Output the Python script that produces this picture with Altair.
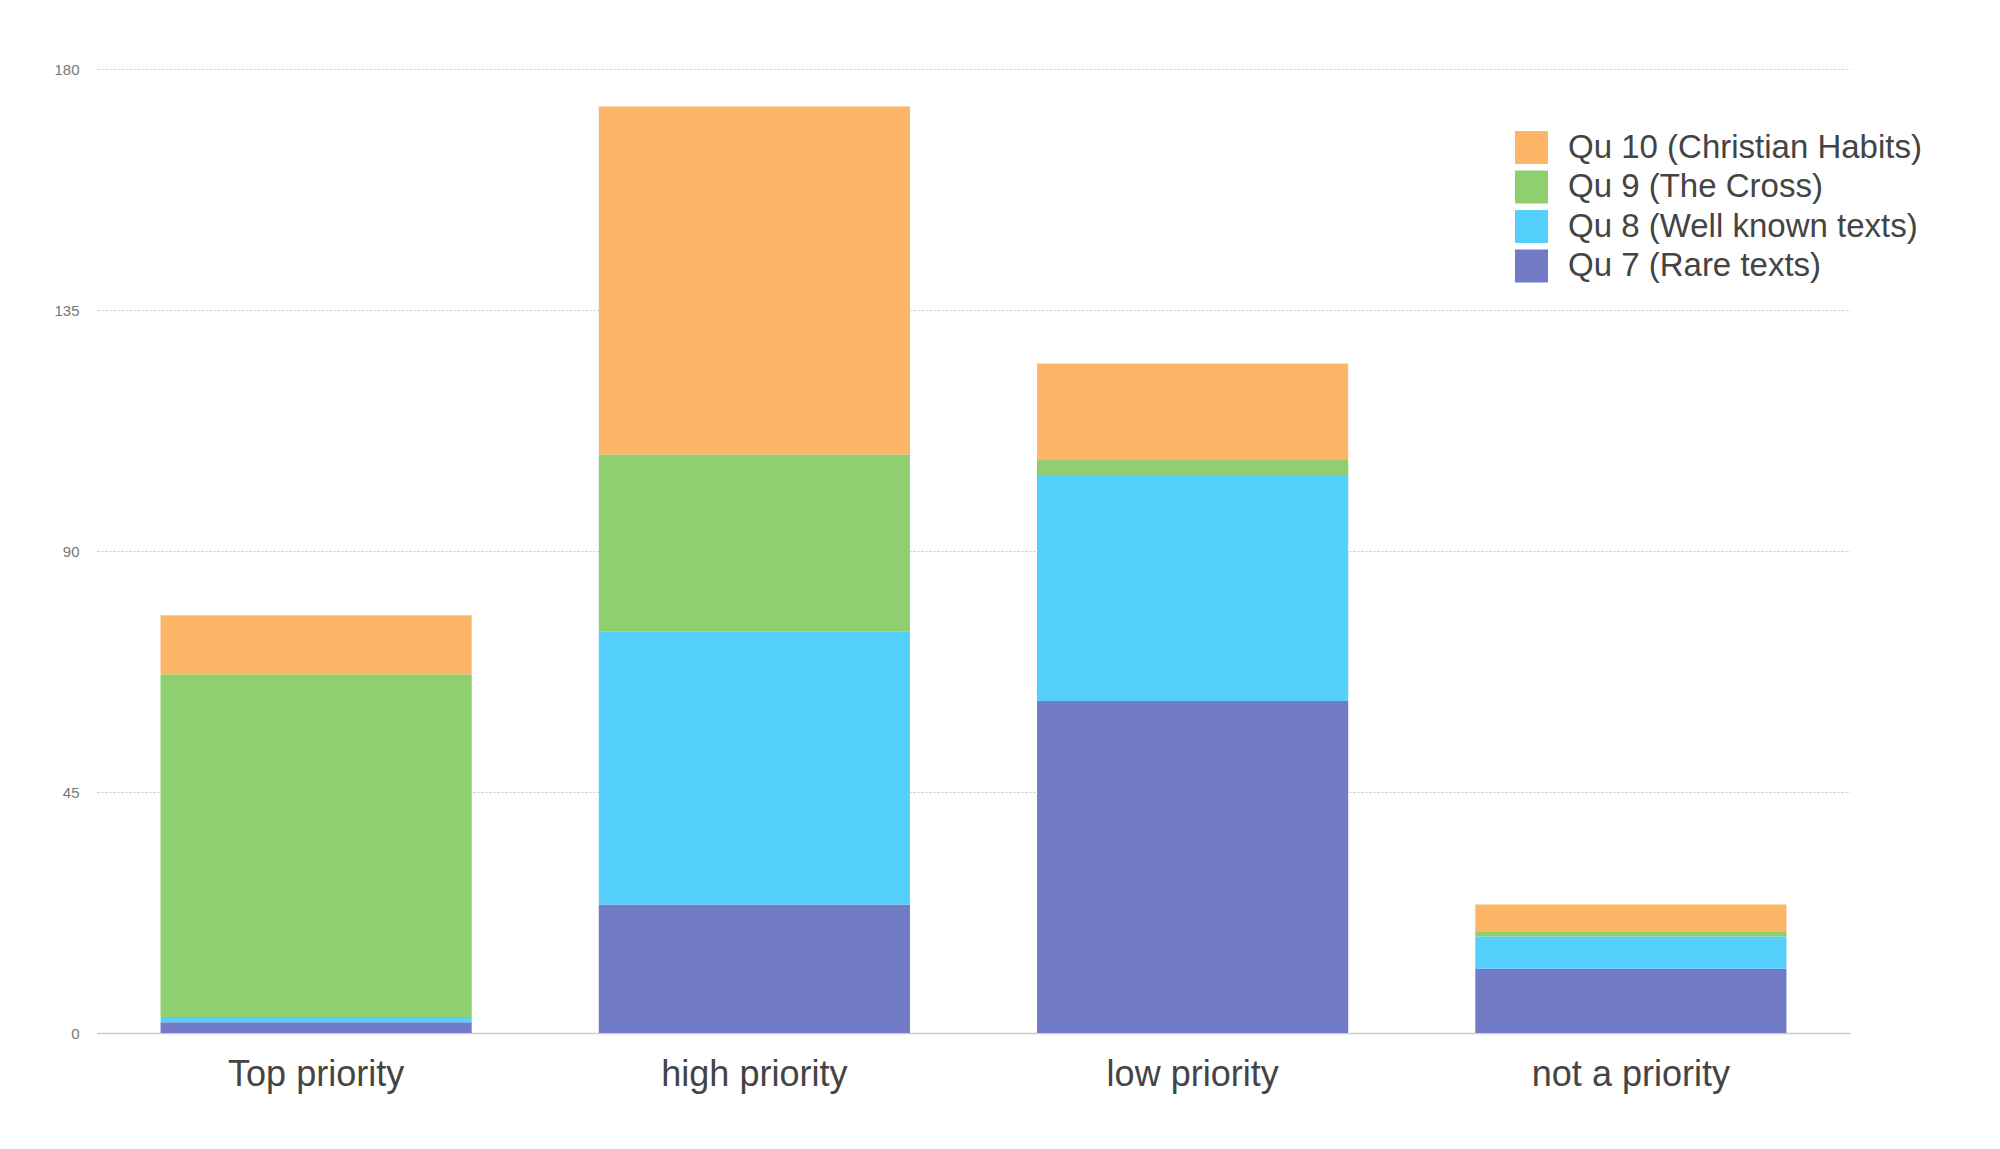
import altair as alt
import pandas as pd

categories = ["Top priority", "high priority", "low priority", "not a priority"]
series = ["Qu 10 (Christian Habits)", "Qu 9 (The Cross)", "Qu 8 (Well known texts)", "Qu 7 (Rare texts)"]
qu7 = [2, 24, 62, 12]
qu8 = [1, 51, 42, 6]
qu9 = [64, 33, 3, 1]
qu10 = [11, 65, 18, 5]
colors = ["#FDB568", "#90CF6F", "#55CFFC", "#727BC8"]
y_ticks = [0, 45, 90, 135, 180]

rows = []
for s_idx, (name, vals) in enumerate([(series[3], qu7), (series[2], qu8), (series[1], qu9), (series[0], qu10)]):
    for c, v in zip(categories, vals):
        rows.append({"category": c, "series": name, "value": v, "order": s_idx})
df = pd.DataFrame(rows)

FONT = "Liberation Sans"

chart = alt.Chart(df).mark_bar().encode(
    x=alt.X("category:N", sort=categories,
            scale=alt.Scale(paddingInner=0.29, paddingOuter=0.145),
            axis=alt.Axis(title=None, labelAngle=0, labelFontSize=36, labelColor="#444444",
                          labelFont=FONT, labelPadding=24, ticks=False, labelLimit=500,
                          domainColor="#cccccc", domainWidth=1.5)),
    y=alt.Y("value:Q", stack="zero",
            scale=alt.Scale(domain=[0, 180], nice=False),
            axis=alt.Axis(values=y_ticks, title=None, ticks=False, domain=False, grid=True,
                          gridDash=[2, 2], gridColor="#c8c8c8", gridWidth=1,
                          labelFontSize=15, labelColor="#777777", labelFont=FONT,
                          labelPadding=18)),
    color=alt.Color("series:N", scale=alt.Scale(domain=series, range=colors),
                    legend=alt.Legend(title=None, orient="none", legendX=1418, legendY=62,
                                      symbolType="square", symbolSize=1089,
                                      symbolStrokeWidth=0, symbolOpacity=1,
                                      labelFontSize=33, labelFont=FONT, labelColor="#444444",
                                      labelOffset=20, rowPadding=5.5, padding=0,
                                      labelLimit=700)),
    order=alt.Order("order:Q", sort="ascending"),
).properties(
    width=1753, height=964,
    autosize=alt.AutoSizeParams(type="none"),
    padding={"left": 89, "top": 61, "right": 120, "bottom": 90},
).configure_view(stroke=None)

chart.save("out.html", embed_options={"renderer": "svg", "actions": False})
